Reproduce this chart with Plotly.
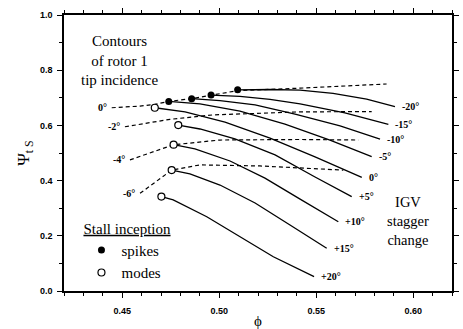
import plotly.graph_objects as go

# IGV stagger lines (solid), first point = stall inception point
igv_labels = ["-20°", "-15°", "-10°", "-5°", "0°", "+5°", "+10°", "+15°", "+20°"]
igv_phi = [
    [0.5095, 0.5262, 0.5417, 0.5587, 0.5760, 0.5906],
    [0.4958, 0.5107, 0.5262, 0.5417, 0.5648, 0.5872],
    [0.4858, 0.5004, 0.5185, 0.5391, 0.5623, 0.5829],
    [0.4740, 0.4901, 0.5107, 0.5339, 0.5571, 0.5786],
    [0.4668, 0.4824, 0.5030, 0.5262, 0.5494, 0.5735],
    [0.4789, 0.4901, 0.5081, 0.5288, 0.5494, 0.5683],
    [0.4765, 0.4875, 0.5056, 0.5236, 0.5417, 0.5614],
    [0.4755, 0.4849, 0.5004, 0.5185, 0.5365, 0.5554],
    [0.4702, 0.4763, 0.4936, 0.5107, 0.5279, 0.5489],
]
igv_psi = [
    [0.729, 0.730, 0.728, 0.716, 0.695, 0.668],
    [0.710, 0.705, 0.694, 0.678, 0.645, 0.604],
    [0.697, 0.690, 0.674, 0.641, 0.598, 0.550],
    [0.687, 0.678, 0.652, 0.605, 0.547, 0.487],
    [0.664, 0.649, 0.612, 0.554, 0.486, 0.412],
    [0.601, 0.587, 0.551, 0.493, 0.413, 0.342],
    [0.530, 0.515, 0.471, 0.409, 0.333, 0.251],
    [0.438, 0.424, 0.384, 0.319, 0.239, 0.155],
    [0.342, 0.330, 0.269, 0.197, 0.124, 0.052],
]
stall_type = ["spike", "spike", "spike", "spike", "mode", "mode", "mode", "mode", "mode"]

# Rotor 1 tip incidence contours (dashed)
inc_labels = ["0°", "-2°", "-4°", "-6°"]
inc_phi = [
    [0.4446, 0.4592, 0.4668, 0.4740, 0.4858, 0.4958, 0.5095, 0.5417, 0.5863],
    [0.4514, 0.4746, 0.4968, 0.5417, 0.5786],
    [0.4540, 0.4765, 0.5004, 0.5417, 0.5717],
    [0.4592, 0.4755, 0.4901, 0.5210, 0.5640],
]
inc_psi = [
    [0.664, 0.670, 0.676, 0.687, 0.697, 0.710, 0.726, 0.735, 0.750],
    [0.595, 0.622, 0.638, 0.649, 0.650],
    [0.475, 0.530, 0.547, 0.549, 0.547],
    [0.354, 0.438, 0.457, 0.453, 0.438],
]

x_ticks = [0.45, 0.50, 0.55, 0.60]
y_ticks = [0.0, 0.2, 0.4, 0.6, 0.8, 1.0]

serif = "Liberation Serif"
fig = go.Figure()

# solid lines
sx, sy = [], []
for px, py in zip(igv_phi, igv_psi):
    sx += px + [None]
    sy += py + [None]
fig.add_trace(go.Scatter(x=sx, y=sy, mode="lines", line=dict(color="black", width=1.3),
                         showlegend=False, hoverinfo="skip"))
# dashed lines
dx, dy = [], []
for px, py in zip(inc_phi, inc_psi):
    dx += px + [None]
    dy += py + [None]
fig.add_trace(go.Scatter(x=dx, y=dy, mode="lines", line=dict(color="black", width=1.2, dash="4px,3px"),
                         showlegend=False, hoverinfo="skip"))

spx = [p[0] for p, t in zip(igv_phi, stall_type) if t == "spike"]
spy = [p[0] for p, t in zip(igv_psi, stall_type) if t == "spike"]
mdx = [p[0] for p, t in zip(igv_phi, stall_type) if t == "mode"]
mdy = [p[0] for p, t in zip(igv_psi, stall_type) if t == "mode"]
fig.add_trace(go.Scatter(x=spx, y=spy, mode="markers", name="spikes",
                         marker=dict(symbol="circle", size=7, color="black")))
fig.add_trace(go.Scatter(x=mdx, y=mdy, mode="markers", name="modes",
                         marker=dict(symbol="circle", size=7, color="white", line=dict(color="black", width=1.2))))

ann = []
for lab, px, py in zip(igv_labels, igv_phi, igv_psi):
    ann.append(dict(x=px[-1], y=py[-1], text=lab, showarrow=False, xanchor="left", yanchor="middle",
                    xshift=5, font=dict(family=serif, size=10, color="black", weight="bold")))
for lab, px, py in zip(inc_labels, inc_phi, inc_psi):
    ann.append(dict(x=px[0], y=py[0], text=lab, showarrow=False, xanchor="right", yanchor="middle",
                    xshift=-3, font=dict(family=serif, size=10, color="black", weight="bold")))
ann.append(dict(xref="paper", yref="paper", x=0.144, y=0.835, text="Contours<br>of rotor 1<br>tip incidence",
                showarrow=False, align="center", xanchor="center", yanchor="middle",
                font=dict(family=serif, size=15, color="black")))
ann.append(dict(xref="paper", yref="paper", x=0.887, y=0.255, text="IGV<br>stagger<br>change",
                showarrow=False, align="center", xanchor="center", yanchor="middle",
                font=dict(family=serif, size=14.5, color="black")))

axis_common = dict(showline=True, linecolor="black", linewidth=1.5, mirror="ticks", ticks="outside",
                   ticklen=5, tickwidth=1.2, tickcolor="black", showgrid=False, zeroline=False,
                   automargin=False,
                   tickfont=dict(family="Liberation Sans", size=9, color="black", weight="bold"))

fig.update_layout(
    width=463, height=329,
    margin=dict(l=64, r=11, t=15, b=38),
    plot_bgcolor="white", paper_bgcolor="white",
    xaxis=dict(range=[0.42, 0.62], tickvals=x_ticks, ticktext=[f"{v:.2f}" for v in x_ticks],
               minor=dict(ticks="outside", dtick=0.01, ticklen=3, tickcolor="black"),
               ticklabelstandoff=5,
               title=dict(text="ϕ", font=dict(family=serif, size=15, color="black"), standoff=6),
               **axis_common),
    yaxis=dict(range=[0.0, 1.0], tickvals=y_ticks, ticktext=[f"{v:.1f}" for v in y_ticks],
               minor=dict(ticks="outside", dtick=0.1, ticklen=3, tickcolor="black"),
               ticklabelstandoff=3,
               title=dict(text="Ψ<sub>t S</sub>", font=dict(family=serif, size=17, color="black"), standoff=6),
               **axis_common),
    legend=dict(x=0.045, y=0.278, xanchor="left", yanchor="top", bgcolor="rgba(0,0,0,0)",
                title=dict(text="<u>Stall inception</u>", font=dict(family=serif, size=15, color="black")),
                font=dict(family=serif, size=15, color="black"), itemwidth=30, tracegroupgap=0),
    annotations=ann,
)

fig.write_html("out.html")
